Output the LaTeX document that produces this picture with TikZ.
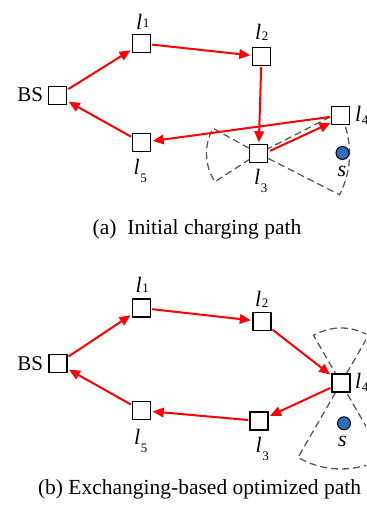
\documentclass[tikz,border=0pt]{standalone}
\usepackage{fontspec}
\setmainfont{Liberation Serif}
\usetikzlibrary{arrows.meta}
\newcommand\lsub[2]{\textit{l}\kern0.6pt\raisebox{#2}{\fontsize{13}{13}\selectfont #1}}
\tikzset{
  box/.style={draw=black, line width=1.4pt, fill=white, minimum size=18pt, inner sep=0pt},
  arr/.style={draw=red, line width=2pt, -{Triangle[length=11pt,width=9.5pt]}, shorten >=1.5pt, shorten <=1pt},
  sector/.style={draw=black!65, line width=1.3pt, dash pattern=on 7pt off 4pt},
  lab/.style={anchor=base west, inner sep=0pt, font=\fontsize{22}{22}\selectfont},
  bslab/.style={anchor=base east, inner sep=0pt, font=\fontsize{21}{21}\selectfont},
  captext/.style={anchor=base, inner sep=0pt, font=\fontsize{21.5}{21.5}\selectfont},
  sensor/.style={circle, draw=black, line width=1pt, fill={rgb,255:red,46;green,110;blue,180}, minimum size=13pt, inner sep=0pt}
}
\begin{document}
\begin{tikzpicture}[x=1pt,y=1pt]
\path[use as bounding box] (0,0) rectangle (366,510);
\clip (0,0) rectangle (366,510);

% ---------- (a) ----------
\coordinate (a3c) at (258.5,356.5);
\draw[sector] (a3c) -- ++(-27:91) arc[start angle=-27, end angle=27, radius=91] -- cycle;
\draw[sector] (a3c) -- ++(151:52) arc[start angle=151, end angle=213, radius=52] -- cycle;

\node[box] (aBS) at (57.7,414.3) {};
\node[box] (a1) at (141.5,466.5) {};
\node[box] (a2) at (261.5,453.5) {};
\node[box] (a3) at (a3c) {};
\node[box] (a4) at (340.5,394.5) {};
\node[box] (a5) at (141.5,367.5) {};
\node[sensor] (as) at (342.5,357) {};

\node[bslab] (aBSl) at (43.3,408.3) {BS};
\node[lab] (a1l) at (136,480) {\lsub{1}{2pt}};
\node[lab] (a2l) at (255,470.7) {\lsub{2}{-1pt}};
\node[lab] (a3l) at (254,325) {\lsub{3}{-8pt}};
\node[lab] (a4l) at (355,388.3) {\lsub{4}{-3pt}};
\node[lab] (a5l) at (133.5,335) {\lsub{5}{-8pt}};
\node[lab] (asl) at (337.5,333.3) {\textit{s}};

\draw[arr] (aBS) -- (a1);
\draw[arr] (a1) -- (a2);
\draw[arr] (a2) -- (a3);
\draw[arr, transform canvas={shift={(1pt,-2.3pt)}}] (a3) -- (a4);
\draw[arr] (a4) -- (a5);
\draw[arr] (a5) -- (aBS);

\node[captext] (capa) at (197,275) {(a)\ \ Initial charging path};

% ---------- (b) ----------
\coordinate (b4c) at (341,127);
\draw[sector] (b4c) -- ++(60:55) arc[start angle=60, end angle=120, radius=55] -- cycle;
\draw[sector] (b4c) -- ++(240:86) arc[start angle=240, end angle=300, radius=86] -- cycle;

\node[box] (bBS) at (58,146.5) {};
\node[box] (b1) at (141.5,202) {};
\node[box] (b2) at (262,188.5) {};
\node[box] (b4) at (b4c) {};
\node[box] (b3) at (259,89) {};
\node[box] (b5) at (141.5,99.5) {};
\node[sensor] (bs) at (344,86.7) {};

\node[bslab] (bBSl) at (43.3,139.3) {BS};
\node[lab] (b1l) at (135.5,217) {\lsub{1}{0pt}};
\node[lab] (b2l) at (255,203.3) {\lsub{2}{-1pt}};
\node[lab] (b4l) at (355,121) {\lsub{4}{-3pt}};
\node[lab] (b3l) at (255.5,57) {\lsub{3}{-8pt}};
\node[lab] (b5l) at (134,65) {\lsub{5}{-8pt}};
\node[lab] (bsl) at (338,63.3) {\textit{s}};

\draw[arr] (bBS) -- (b1);
\draw[arr] (b1) -- (b2);
\draw[arr] (b2) -- (b4);
\draw[arr] (b4) -- (b3);
\draw[arr] (b3) -- (b5);
\draw[arr] (b5) -- (bBS);

\node[captext] (capb) at (199.5,15.3) {(b)\ Exchanging-based optimized path};
\end{tikzpicture}
\end{document}
